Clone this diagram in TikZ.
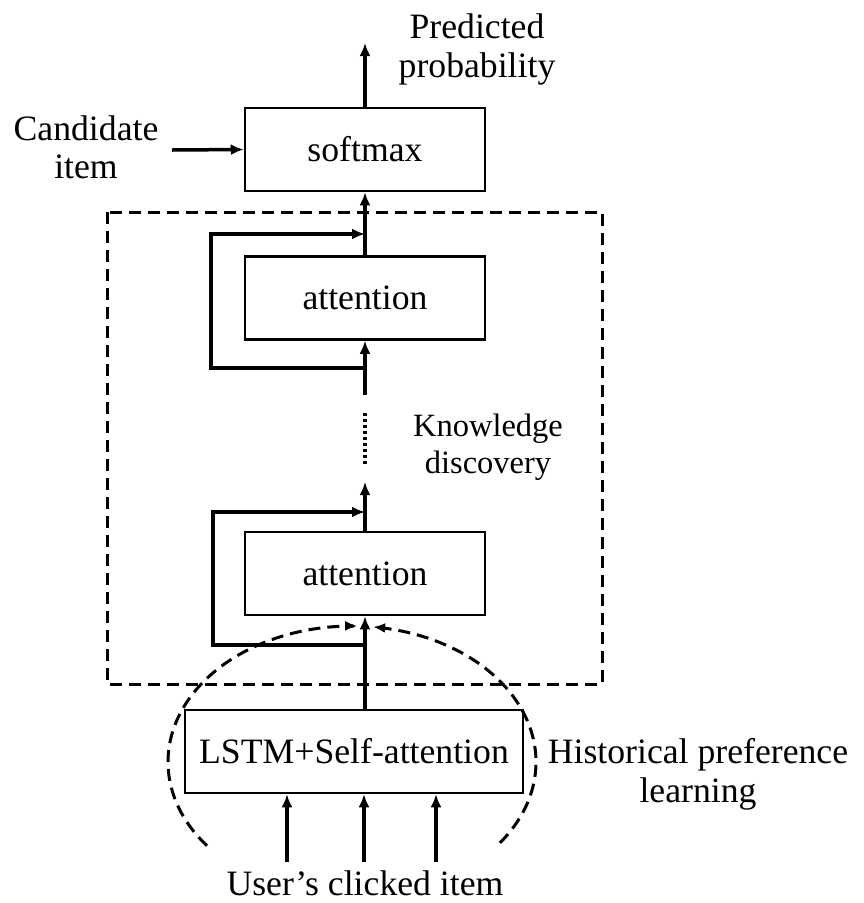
\documentclass[tikz,border=0pt]{standalone}
\usepackage{fontspec}
\setmainfont{Liberation Serif}
\usetikzlibrary{arrows.meta}
\begin{document}
\begin{tikzpicture}[x=1pt,y=-1pt,
  box/.style={draw, line width=2.5pt, minimum width=240pt, minimum height=83pt, inner sep=0pt, font=\fontsize{35.7}{40}\selectfont},
  arr/.style={line width=3.5pt, -{Latex[length=13pt,width=11pt]}},
  dsh/.style={line width=3pt, dash pattern=on 12pt off 7pt},
  txt/.style={font=\fontsize{35.7}{40}\selectfont, inner sep=0pt, anchor=base},
  stxt/.style={font=\fontsize{32.5}{37}\selectfont, inner sep=0pt, anchor=base},
]
\useasboundingbox (0,0) rectangle (864,903);

% boxes
\node[box] (soft) at (365,149.5) {softmax};
\node[box] (att1) at (365,298) {attention};
\node[box] (att2) at (365,573.5) {attention};
\node[box, minimum width=338pt] (lstm) at (354,751.5) {LSTM+Self-attention};

% texts
\node[txt] (pred1) at (477,38) {Predicted};
\node[txt] (pred2) at (477,77) {probability};
\node[txt] (cand1) at (86,140) {Candidate};
\node[txt] (cand2) at (86,178) {item};
\node[stxt] (know1) at (488,436) {Knowledge};
\node[stxt] (know2) at (488,473) {discovery};
\node[txt] (hist1) at (698,763) {Historical preference};
\node[txt] (hist2) at (698,802) {learning};
\node[txt] (user) at (365,895) {User’s clicked item};

% dashed region
\draw[dsh] (107,212) rectangle (602,684);

% top connectors
\coordinate (out) at (365,43);
\draw[arr] (soft.north) -- (out);
\coordinate (candin) at (172,150);
\draw[arr] (candin) -- (soft.west);
\draw[arr] (att1.north) -- (soft.south);

% skip 1
\coordinate (sk1a) at (365,368);
\coordinate (sk1b) at (211,368);
\coordinate (sk1c) at (211,234);
\coordinate (sk1d) at (365,234);
\draw[arr] (sk1a) -- (sk1b) -- (sk1c) -- (sk1d);
\coordinate (d1) at (365,395);
\draw[arr] (d1) -- (att1.south);

% dotted
\coordinate (dotA) at (365,413);
\coordinate (dotB) at (365,466);
\draw[line width=3.5pt, dash pattern=on 3pt off 3pt] (dotA) -- (dotB);

% attention 2
\coordinate (up2) at (365,482);
\draw[arr] (att2.north) -- (up2);
\coordinate (sk2a) at (365,645);
\coordinate (sk2b) at (213,645);
\coordinate (sk2c) at (213,512);
\coordinate (sk2d) at (365,512);
\draw[arr] (sk2a) -- (sk2b) -- (sk2c) -- (sk2d);
\draw[arr] (att2.south |- lstm.north) -- (att2.south);

% inputs
\coordinate (in1) at (287,862);
\coordinate (in2) at (364,862);
\coordinate (in3) at (436,862);
\draw[arr] (in1) -- (in1 |- lstm.south);
\draw[arr] (in2) -- (in2 |- lstm.south);
\draw[arr] (in3) -- (in3 |- lstm.south);

% dashed ellipse arcs
\draw[dsh, -{Latex[length=12pt,width=10pt]}] plot[domain=218:88.4, samples=90, smooth] ({352+184*cos(\x)},{762-136*sin(\x)});
\draw[dsh, -{Latex[length=12pt,width=10pt]}] plot[domain=-36.5:83.4, samples=90, smooth] ({352+184*cos(\x)},{762-136*sin(\x)});
\end{tikzpicture}
\end{document}
